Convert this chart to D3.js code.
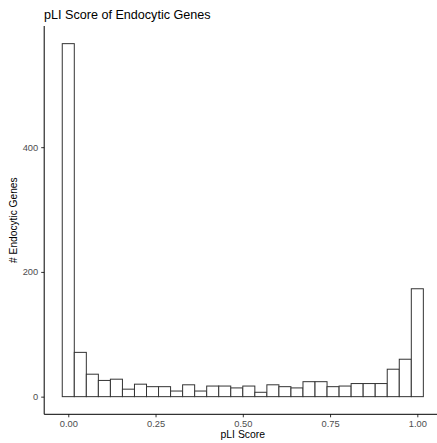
<!DOCTYPE html>
<html>
<head>
<meta charset="utf-8">
<script src="https://cdn.jsdelivr.net/npm/d3@7"></script>
<style>
  html, body { margin: 0; padding: 0; background: #fff; }
  svg { display: block; font-family: "Liberation Sans", Arial, sans-serif; }
</style>
</head>
<body>
<svg id="chart" width="437" height="443"></svg>
<script>
// Histogram of pLI scores: 30 bins of width 1/29, centred on 0 ... 1
const binCount = 30;
const binWidth = 1 / 29;
const counts = [566, 71, 36, 26, 28, 12, 20, 16, 16, 9,
                19, 9, 17, 17, 14, 17, 7, 19, 16, 14,
                24, 24, 16, 17, 21, 21, 21, 44, 60, 173];
const xTicks = [0, 0.25, 0.5, 0.75, 1];
const xTickLabels = ["0.00", "0.25", "0.50", "0.75", "1.00"];
const yTicks = [0, 200, 400];

const bins = counts.map((c, i) => ({
  x0: i * binWidth - binWidth / 2,
  x1: i * binWidth + binWidth / 2,
  count: c
}));

const svg = d3.select("#chart");

// Scales with ggplot-style 5% expansion of the data range
const xMin = bins[0].x0, xMax = bins[bins.length - 1].x1;
const xPad = (xMax - xMin) * 0.05;
const x = d3.scaleLinear()
  .domain([xMin - xPad, xMax + xPad])
  .range([44.2, 441.4]);

const yMax = d3.max(counts);
const yPad = yMax * 0.05;
const y = d3.scaleLinear()
  .domain([-yPad, yMax + yPad])
  .range([414.3, 26]);

// Bars
svg.append("g")
  .selectAll("rect")
  .data(bins)
  .join("rect")
  .attr("x", d => x(d.x0))
  .attr("width", d => x(d.x1) - x(d.x0))
  .attr("y", d => y(d.count))
  .attr("height", d => y(0) - y(d.count))
  .attr("fill", "#ffffff")
  .attr("stroke", "#333333")
  .attr("stroke-width", 1);

// X axis
const xAxis = d3.axisBottom(x)
  .tickValues(xTicks)
  .tickFormat((d, i) => xTickLabels[i])
  .tickSize(3)
  .tickPadding(3);
const gx = svg.append("g")
  .attr("transform", `translate(0,${y.range()[0]})`)
  .call(xAxis);
gx.select(".domain").remove();
gx.append("line")
  .attr("x1", x.range()[0]).attr("x2", 437)
  .attr("stroke", "#000").attr("stroke-width", 1);
gx.selectAll(".tick line").attr("stroke", "#333333");
gx.selectAll(".tick text")
  .attr("fill", "#4d4d4d")
  .attr("font-size", 9.3)
  .attr("font-family", "Liberation Sans, Arial, sans-serif");

// Y axis
const yAxis = d3.axisLeft(y)
  .tickValues(yTicks)
  .tickSize(3)
  .tickPadding(3);
const gy = svg.append("g")
  .attr("transform", `translate(${x.range()[0]},0)`)
  .call(yAxis);
gy.select(".domain").remove();
gy.append("line")
  .attr("y1", y.range()[1]).attr("y2", y.range()[0])
  .attr("stroke", "#000").attr("stroke-width", 1);
gy.selectAll(".tick line").attr("stroke", "#333333");
gy.selectAll(".tick text")
  .attr("fill", "#4d4d4d")
  .attr("font-size", 9.3)
  .attr("font-family", "Liberation Sans, Arial, sans-serif");

// Axis titles
svg.append("text")
  .attr("x", x(0.5))
  .attr("y", 438.3)
  .attr("text-anchor", "middle")
  .attr("font-size", 10.4)
  .attr("fill", "#000")
  .text("pLI Score");

svg.append("text")
  .attr("transform", `translate(16.5,${(y.range()[0] + y.range()[1]) / 2}) rotate(-90)`)
  .attr("text-anchor", "middle")
  .attr("font-size", 10.2)
  .attr("fill", "#000")
  .text("# Endocytic Genes");

// Title
svg.append("text")
  .attr("x", 44)
  .attr("y", 18.8)
  .attr("font-size", 12.6)
  .attr("fill", "#000")
  .text("pLI Score of Endocytic Genes");
</script>
</body>
</html>
